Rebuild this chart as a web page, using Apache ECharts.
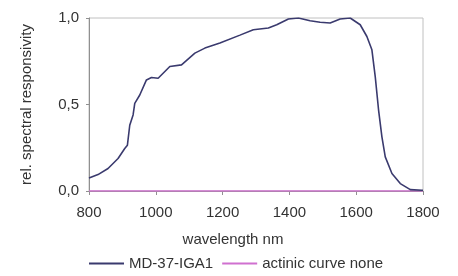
<!DOCTYPE html>
<html><head><meta charset="utf-8">
<script src="https://cdn.jsdelivr.net/npm/echarts@6/dist/echarts.min.js"></script>
<style>html,body{margin:0;padding:0;background:#fff}#c{width:458px;height:276px}</style>
</head><body><div id="c"></div>
<script>
const wavelengths = [800,805,827,857,887,907,915,922,932,937,952,972,987,1007,1042,1077,1117,1147,1192,1252,1292,1337,1362,1397,1427,1462,1492,1522,1552,1582,1612,1632,1647,1657,1667,1677,1687,1707,1732,1762,1797,1800];
const responsivity = [0.075,0.078,0.095,0.13,0.188,0.246,0.265,0.38,0.44,0.507,0.555,0.642,0.656,0.652,0.72,0.729,0.797,0.826,0.855,0.901,0.932,0.942,0.961,0.994,1.0,0.984,0.975,0.971,0.994,1.0,0.961,0.893,0.816,0.661,0.468,0.313,0.197,0.101,0.043,0.008,0.004,0.004];
const actinicX = [800,1800];
const actinicY = [0,0];
const xTicks = [800,1000,1200,1400,1600,1800];
const yTicks = [0,0.5,1.0];
const seriesNames = ['MD-37-IGA1','actinic curve none'];

const font = 'Liberation Sans, Arial, sans-serif';
const chart = echarts.init(document.getElementById('c'), null, {renderer:'canvas'});
chart.setOption({
  animation:false,
  backgroundColor:'#fff',
  grid:{left:89,right:35,top:18,bottom:85,show:true,borderColor:'#c0c0c0',borderWidth:1},
  xAxis:{type:'value',min:800,max:1800,interval:200,
    name:'wavelength nm',nameLocation:'middle',nameGap:41,
    nameTextStyle:{fontFamily:font,fontSize:15,color:'#333',padding:[0,46,0,0]},
    axisLine:{show:true,lineStyle:{color:'#909090'}},
    axisTick:{show:true,length:4,lineStyle:{color:'#909090'}},
    axisLabel:{fontFamily:font,fontSize:15,color:'#333',margin:14,
      formatter:v=>String(v)},
    splitLine:{show:false}},
  yAxis:{type:'value',min:0,max:1,interval:0.5,
    name:'rel. spectral responsivity',nameLocation:'middle',nameGap:55,
    nameTextStyle:{fontFamily:font,fontSize:15,color:'#333'},
    axisLine:{show:true,lineStyle:{color:'#909090'}},
    axisTick:{show:true,length:3,lineStyle:{color:'#909090'}},
    axisLabel:{fontFamily:font,fontSize:15,color:'#333',margin:10,
      formatter:v=>v.toFixed(1).replace('.',',')},
    splitLine:{show:false}},
  legend:{top:256,left:89,padding:0,itemWidth:35,itemHeight:2,itemGap:9,
    icon:'rect',
    textStyle:{fontFamily:font,fontSize:15,color:'#333'},
    data:seriesNames},
  series:[
    {name:seriesNames[0],type:'line',showSymbol:false,symbol:'none',
      data:wavelengths.map((w,i)=>[w,responsivity[i]]),
      lineStyle:{color:'#3a3a6e',width:1.6},itemStyle:{color:'#3a3a6e'},z:3},
    {name:seriesNames[1],type:'line',showSymbol:false,symbol:'none',
      data:actinicX.map((w,i)=>[w,actinicY[i]]),
      lineStyle:{color:'#d070d0',width:1.4},itemStyle:{color:'#d070d0'},z:2}
  ]
});
</script></body></html>
